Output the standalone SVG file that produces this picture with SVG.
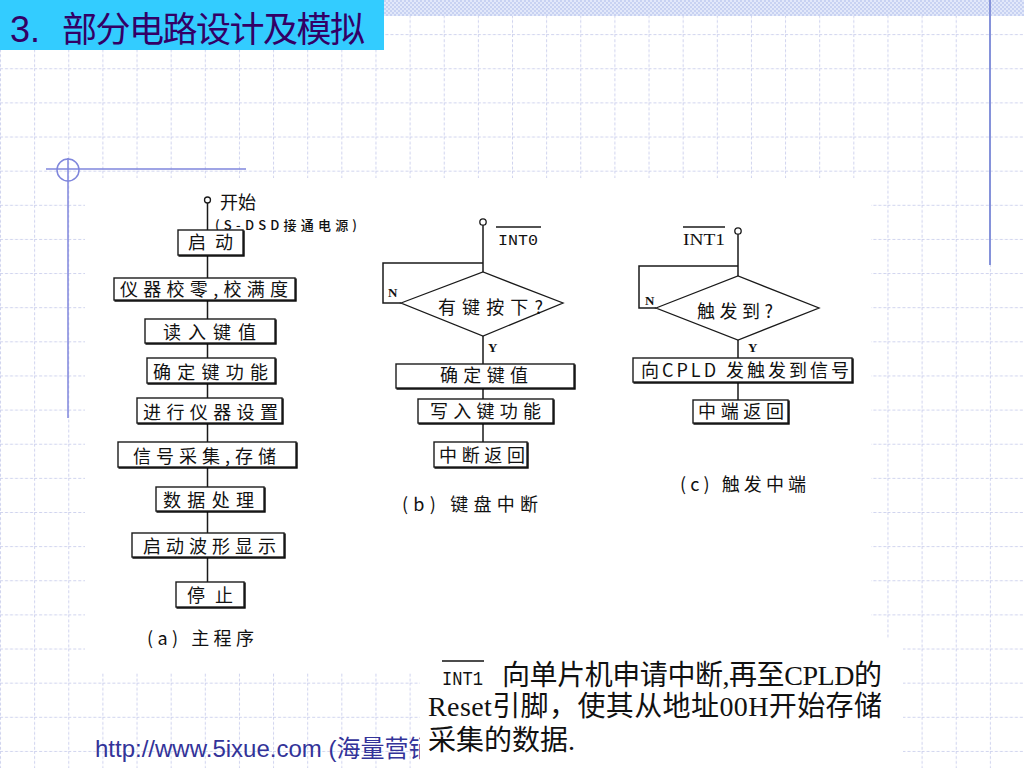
<svg xmlns="http://www.w3.org/2000/svg" width="1024" height="768" viewBox="0 0 1024 768">
<defs>
<pattern id="grid" patternUnits="userSpaceOnUse" width="34.1333" height="34.1333">
<path d="M0.5,0 V34.1333 M0,0.5 H34.1333" stroke="#CFD3EE" stroke-width="1" stroke-dasharray="3 2" fill="none"/>
</pattern>
<pattern id="check" patternUnits="userSpaceOnUse" width="4" height="4">
<rect width="4" height="4" fill="#E2E8FA"/>
<rect width="2" height="2" fill="#C8D2F2"/>
<rect x="2" y="2" width="2" height="2" fill="#C8D2F2"/>
</pattern>
<filter id="sh" x="-5%" y="-5%" width="115%" height="130%">
<feOffset in="SourceAlpha" dx="1.2" dy="1.2" result="o"/>
<feMerge><feMergeNode in="o"/><feMergeNode in="SourceGraphic"/></feMerge>
</filter>
</defs>
<style>
.box{fill:#fff;stroke:#1a1a1a;stroke-width:1.4;filter:url(#sh)}
.dia{fill:#fff;stroke:#1a1a1a;stroke-width:1.3}
.term{fill:#fff;stroke:#1a1a1a;stroke-width:1.3}
.ln{fill:none;stroke:#1a1a1a;stroke-width:1.5}
.t{font-family:"Noto Sans CJK SC",sans-serif;font-size:18px;fill:#111}
.ts{font-family:"Noto Sans CJK SC",sans-serif;font-size:13px;fill:#111;font-weight:500}
.yn{font-family:"Liberation Serif",serif;font-weight:bold;font-size:13px;fill:#111}
.sig{font-family:"Liberation Mono",monospace;font-size:15px;fill:#111}
.ol{stroke:#1a1a1a;stroke-width:1.3}
.body{font-family:"Liberation Serif","Noto Sans CJK SC",serif;font-size:28px;fill:#111}
.deco{stroke:#7F86DC;fill:none;stroke-width:1.5}
</style>

<!-- background -->
<rect width="1024" height="768" fill="#fff"/>
<rect x="0" y="16" width="1024" height="752" fill="url(#grid)"/>
<rect x="0" y="0" width="1024" height="16" fill="url(#check)"/>
<line x1="990" y1="0" x2="990" y2="265" stroke="#8592DA" stroke-width="2"/>
<g id="corner-deco">
<line class="deco" x1="46" y1="169" x2="246" y2="169"/>
<line class="deco" x1="68" y1="158" x2="68" y2="418"/>
<circle class="deco" cx="68" cy="170" r="11"/>
</g>

<!-- title -->
<g id="title">
<rect x="0" y="0" width="384" height="50" fill="#33CCFF"/>
<text x="10" y="42" font-family="Liberation Sans,sans-serif" font-size="36" fill="#330066">3.</text>
<text x="62" y="42" font-family="Noto Sans CJK SC,sans-serif" font-size="35" fill="#330066" textLength="303" lengthAdjust="spacing">部分电路设计及模拟</text>
</g>

<!-- url footer -->
<text id="footer" x="95" y="757" font-family="Liberation Sans,Noto Sans CJK SC,sans-serif" font-size="24" fill="#333399">http://www.5ixue.com (海量营销</text>

<!-- white picture areas -->
<rect x="85" y="178" width="786" height="495" fill="#fff"/>
<rect x="420" y="638" width="483" height="130" fill="#fff"/>

<!-- connectors -->
<g id="connectors">
<path class="ln" d="M207.5,203 V230 M207.5,255 V278 M207.5,300 V319 M207.5,343 V358 M207.5,383 V398 M207.5,423 V442 M207.5,467 V487 M207.5,511 V533 M207.5,557 V582"/>
<path class="ln" d="M483,225 V272 M483,263 H383 V303 H401 M483,336 V364 M483,388 V399 M483,423 V442"/>
<path class="ln" d="M738,234 V276 M738,266 H639 V308 H656 M738,340 V358 M738,382 V400"/>
</g>

<!-- (a) main program -->
<g id="a-start">
<circle class="term" cx="207.5" cy="200" r="3"/>
<text class="t" x="220" y="209" font-size="14">开始</text>
<text class="ts" x="215" y="229.5" textLength="142" lengthAdjust="spacing">(S-DSD接通电源)</text>
</g>
<g id="a-qidong"><rect class="box" x="178" y="230" width="65" height="25"/><text class="t" x="188" y="249" textLength="45" lengthAdjust="spacing">启动</text></g>
<g id="a-jiaoling"><rect class="box" x="114" y="278" width="181" height="22"/><text class="t" x="120" y="296" textLength="168" lengthAdjust="spacing">仪器校零,校满度</text></g>
<g id="a-duru"><rect class="box" x="145" y="319" width="130" height="24"/><text class="t" x="163" y="339" textLength="93" lengthAdjust="spacing">读入键值</text></g>
<g id="a-queding"><rect class="box" x="147" y="358" width="128" height="25"/><text class="t" x="153" y="379" textLength="115" lengthAdjust="spacing">确定键功能</text></g>
<g id="a-shezhi"><rect class="box" x="137" y="398" width="145" height="25"/><text class="t" x="143" y="419" textLength="135" lengthAdjust="spacing">进行仪器设置</text></g>
<g id="a-caiji"><rect class="box" x="118" y="442" width="178" height="25"/><text class="t" x="133" y="463" textLength="143" lengthAdjust="spacing">信号采集,存储</text></g>
<g id="a-chuli"><rect class="box" x="156" y="487" width="108" height="24"/><text class="t" x="163" y="507" textLength="91" lengthAdjust="spacing">数据处理</text></g>
<g id="a-xianshi"><rect class="box" x="132" y="533" width="152" height="24"/><text class="t" x="143" y="553" textLength="133" lengthAdjust="spacing">启动波形显示</text></g>
<g id="a-tingzhi"><rect class="box" x="176" y="582" width="68" height="25"/><text class="t" x="187" y="602" textLength="46" lengthAdjust="spacing">停止</text></g>
<text id="a-caption" class="t" x="147" y="645" font-size="16" textLength="107" lengthAdjust="spacing">(a) 主程序</text>

<!-- (b) keyboard interrupt -->
<g id="b-start">
<circle class="term" cx="483" cy="222" r="3.2"/>
<line class="ol" x1="496" y1="227" x2="541" y2="227"/>
<text class="sig" x="498" y="245" textLength="40" lengthAdjust="spacingAndGlyphs">INT0</text>
</g>
<g id="b-decision">
<polygon class="dia" points="401,303 483,272 563,303 483,336"/>
<text class="t" x="438" y="314" textLength="105" lengthAdjust="spacing">有键按下?</text>
<text class="yn" x="388" y="297">N</text>
<text class="yn" x="488" y="352">Y</text>
</g>
<g id="b-jianzhi"><rect class="box" x="396" y="364" width="178" height="24"/><text class="t" x="440" y="382" textLength="88" lengthAdjust="spacing">确定键值</text></g>
<g id="b-xieru"><rect class="box" x="418" y="399" width="135" height="24"/><text class="t" x="430" y="418" textLength="111" lengthAdjust="spacing">写入键功能</text></g>
<g id="b-fanhui"><rect class="box" x="434" y="442" width="93" height="25"/><text class="t" x="439" y="462" textLength="86" lengthAdjust="spacing">中断返回</text></g>
<text id="b-caption" class="t" x="402" y="511" font-size="16" textLength="136" lengthAdjust="spacing">(b) 键盘中断</text>

<!-- (c) trigger interrupt -->
<g id="c-start">
<circle class="term" cx="738" cy="231" r="3.2"/>
<line class="ol" x1="683" y1="227" x2="725" y2="227"/>
<text x="683" y="245" font-family="Liberation Serif,serif" font-size="16" fill="#111" textLength="42" lengthAdjust="spacingAndGlyphs">INT1</text>
</g>
<g id="c-decision">
<polygon class="dia" points="656,308 738,276 819,308 738,340"/>
<text class="t" x="697" y="318" textLength="76" lengthAdjust="spacing">触发到?</text>
<text class="yn" x="645" y="305">N</text>
<text class="yn" x="748" y="352">Y</text>
</g>
<g id="c-signal"><rect class="box" x="633" y="358" width="219" height="24"/><text class="t" x="641" y="377" textLength="208" lengthAdjust="spacing">向CPLD 发触发到信号</text></g>
<g id="c-fanhui"><rect class="box" x="693" y="400" width="95" height="23"/><text class="t" x="698" y="418" textLength="86" lengthAdjust="spacing">中端返回</text></g>
<text id="c-caption" class="t" x="680" y="491" font-size="16" textLength="126" lengthAdjust="spacing">(c) 触发中端</text>

<!-- explanation text -->
<g id="note">
<line x1="442" y1="661" x2="484" y2="661" stroke="#111" stroke-width="1.6"/>
<text x="442" y="685" font-family="Liberation Mono,monospace" font-size="20" fill="#111" textLength="41" lengthAdjust="spacingAndGlyphs">INT1</text>
<text class="body" x="502" y="685" textLength="380" lengthAdjust="spacing">向单片机申请中断,再至CPLD的</text>
<text class="body" x="428" y="716" textLength="454" lengthAdjust="spacing">Reset引脚，使其从地址00H开始存储</text>
<text class="body" x="428" y="750">采集的数据.</text>
</g>
</svg>
